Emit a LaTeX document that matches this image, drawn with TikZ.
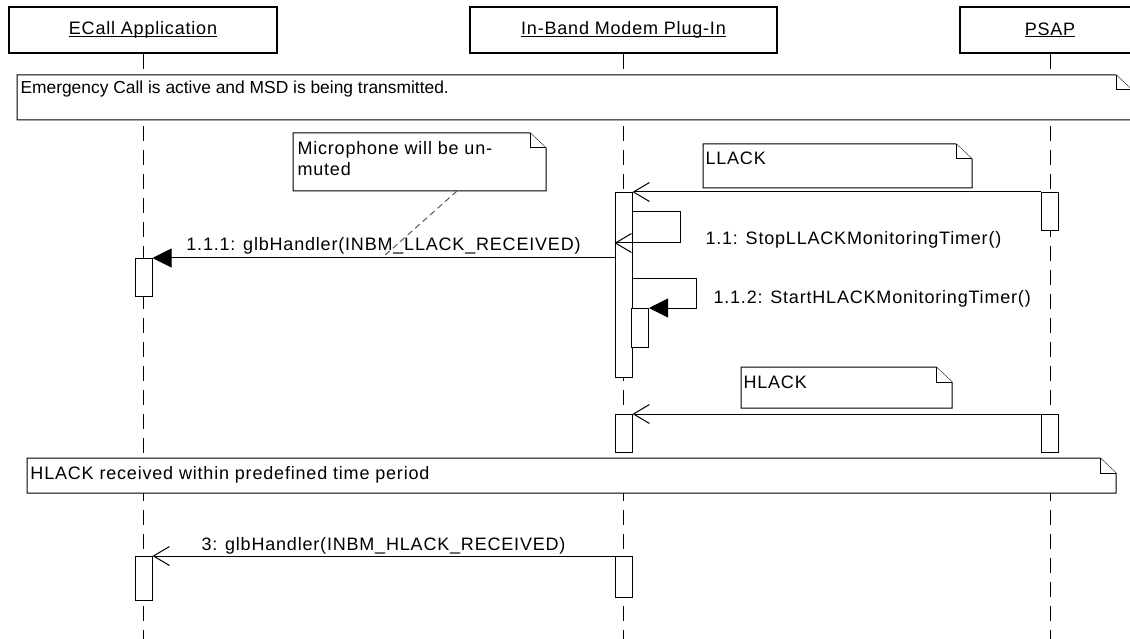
\documentclass[tikz,border=0pt]{standalone}
\usepackage{fontspec}
\setmainfont{Liberation Sans}
\newfontfamily\widefont[LetterSpace=4.5]{Liberation Sans}
\usetikzlibrary{arrows.meta}

\newcommand{\umlnote}[4]{%
  \draw[notebox] (#1,#2) -- (#3-16,#2) -- (#3,#2+15) -- (#3,#4) -- (#1,#4) -- cycle;
  \draw[notebox] (#3-16,#2) -- (#3-16,#2+15) -- (#3,#2+15);}
\newcommand{\headtext}[1]{\setbox0\hbox{#1}\rlap{\rule[-2.2pt]{\wd0}{0.9pt}}\box0}

\begin{document}
\begin{tikzpicture}[x=1pt,y=-1pt,line width=1pt,
  font=\widefont\fontsize{18}{21}\selectfont,
  head/.style={draw,line width=2.4pt,fill=white,inner sep=0pt,minimum height=46pt},
  life/.style={dash pattern=on 15pt off 9pt},
  act/.style={draw,fill=white,anchor=north,inner sep=0pt,minimum width=17pt},
  notebox/.style={fill=white,line join=miter},
  msg/.style={-{Straight Barb[length=16pt,width=19pt]}},
  call/.style={-{Triangle[length=19pt,width=19pt]}},
  lbl/.style={anchor=base west,inner sep=0pt}]
  \useasboundingbox (0,0) rectangle (1130,639);
  \clip (0,0) rectangle (1130,639);

  \node[head,minimum width=268pt] (ecall) at (143,30) {\headtext{ECall Application}};
  \node[head,minimum width=307pt] (ibm) at (623.5,30) {\headtext{In-Band Modem Plug-In}};
  \node[head,minimum width=180pt] (psap) at (1050,30) {\headtext{PSAP}};
  \coordinate (bottom) at (0,639);
  \foreach \p in {ecall,ibm,psap}
    \draw[life] (\p.south) -- (\p.south |- bottom);

  % notes
  \umlnote{17}{75}{1132}{120}
  \node[lbl,font=\normalfont\fontsize{17.4}{21}\selectfont] (active) at (20,94)
    {Emergency Call is active and MSD is being transmitted.};
  \umlnote{293}{133}{546}{191}
  \node[lbl] (mic1) at (297,155) {Microphone will be un-};
  \node[lbl] (mic2) at (297,176) {muted};
  \umlnote{703}{144}{972}{188}
  \node[lbl] (llack) at (705,165) {LLACK};
  \umlnote{741}{367}{952}{408}
  \node[lbl] (hlack) at (743,388) {HLACK};
  \umlnote{27}{458}{1116}{493}
  \node[lbl] (period) at (30,479) {HLACK received within predefined time period};

  % activations
  \node[act,minimum height=185pt] (ibmA) at (623.5,192) {};
  \node[act,minimum height=39pt] (ibmB) at (640,308) {};
  \node[act,minimum height=38pt] (psapA) at (1050,192) {};
  \node[act,minimum height=38pt] (ecA) at (143.5,258) {};
  \node[act,minimum height=38pt] (ibmC) at (623.5,414) {};
  \node[act,minimum height=38pt] (psapB) at (1050,414) {};
  \node[act,minimum height=44pt] (ecB) at (143.5,556) {};
  \node[act,minimum height=41pt] (ibmD) at (623.5,556) {};

  % messages
  \draw[msg] (psapA.north west) -- (ibmA.north east);
  \coordinate (t1a) at (632,212);
  \coordinate (t1b) at (680,243);
  \draw[msg] (t1a) -- (t1a -| t1b) -- (t1b) -- (ibmA.west |- t1b);
  \node[lbl] (stop) at (705,244) {1.1: StopLLACKMonitoringTimer()};
  \draw[call] (ibmA.west |- ecA.north) -- (ecA.north east)
    node[midway,anchor=base,yshift=7pt] (h1) {1.1.1: glbHandler(INBM\_LLACK\_RECEIVED)};
  \coordinate (t2a) at (632,278);
  \coordinate (t2b) at (696,308);
  \draw[call] (t2a) -- (t2a -| t2b) -- (t2b) -- (ibmB.north east);
  \node[lbl] (start) at (713,303) {1.1.2: StartHLACKMonitoringTimer()};
  \coordinate (mic) at (457,191);
  \coordinate (micend) at (383,257);
  \draw[black!65,dash pattern=on 6pt off 4pt] (mic) -- (micend);
  \draw[msg] (psapB.north west) -- (ibmC.north east);
  \draw[msg] (ibmD.north west) -- (ecB.north east)
    node[midway,anchor=base,yshift=6pt] (h3) {3: glbHandler(INBM\_HLACK\_RECEIVED)};
\end{tikzpicture}
\end{document}
